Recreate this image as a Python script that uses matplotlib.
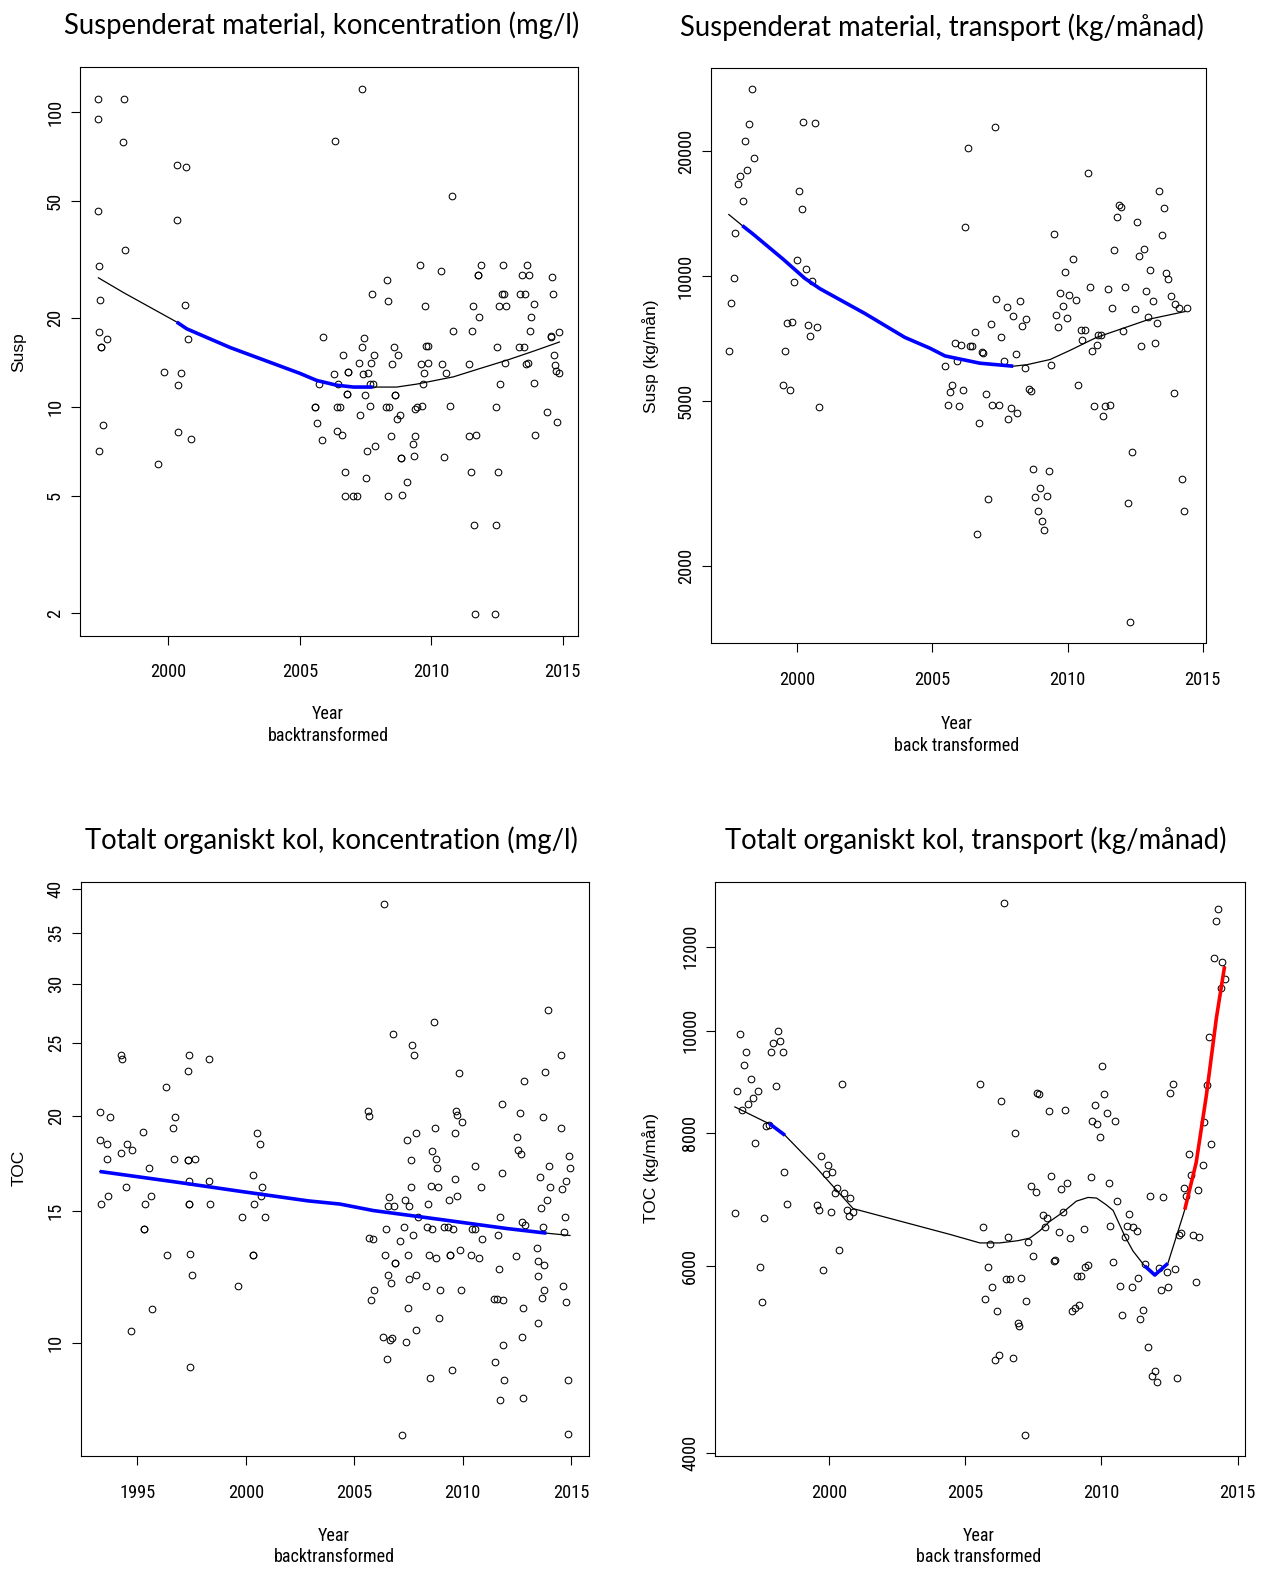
import matplotlib
matplotlib.use("Agg")
import matplotlib.pyplot as plt
from matplotlib.ticker import NullLocator
from matplotlib import font_manager as fm
import numpy as np

# ---------------- data ----------------
# Panel 1: Suspenderat material, koncentration (mg/l)
p1_year = [
    1997.34, 1998.32, 1997.34, 1998.29, 2000.32, 2000.67, 1997.34, 2000.34, 1998.35, 1997.37,
    1997.40, 2000.65, 1997.37, 1997.68, 1997.42, 1997.42, 2000.75, 1999.84, 2000.47, 2000.38,
    1997.50, 2000.38, 2000.85, 1997.37, 1999.62,
    2007.38, 2006.33, 2010.80, 2009.57, 2010.36, 2011.87, 2011.79, 2011.79, 2012.71, 2013.64,
    2013.44, 2013.70, 2014.60, 2008.30, 2007.76, 2008.34, 2009.77, 2011.59, 2011.80, 2012.68,
    2012.76, 2012.56, 2012.83, 2013.37, 2013.58, 2013.89, 2014.64, 2013.80, 2010.84, 2011.55,
    2013.74, 2014.54, 2014.54, 2014.87, 2005.87, 2007.45, 2007.35, 2008.58, 2009.80, 2009.89,
    2012.51, 2013.33, 2013.54, 2006.63, 2007.82, 2008.75, 2014.67, 2007.25, 2007.72, 2008.52,
    2009.60, 2009.89, 2010.41, 2011.42, 2012.79, 2013.60, 2013.67, 2014.69, 2006.29, 2006.85,
    2006.85, 2007.42, 2007.58, 2009.71, 2010.56, 2014.73, 2014.84, 2005.74, 2006.47, 2007.68,
    2007.78, 2009.68, 2012.61, 2013.92, 2006.78, 2006.78, 2007.49, 2008.63, 2008.63, 2005.58,
    2005.58, 2006.43, 2006.54, 2007.66, 2008.28, 2008.40, 2009.38, 2009.47, 2009.63, 2010.70,
    2012.47, 2007.28, 2008.80, 2008.68, 2005.64, 2014.41, 2014.77, 2005.84, 2006.40, 2006.59,
    2008.47, 2009.39, 2009.29, 2011.45, 2011.69, 2013.94, 2007.56, 2007.87, 2008.84, 2008.84,
    2009.33, 2010.48, 2006.73, 2007.53, 2009.09, 2011.51, 2012.54, 2006.71, 2007.02, 2007.18,
    2008.37, 2008.89, 2011.62, 2012.45, 2011.66, 2012.41]
p1_susp = [
    111, 111, 95, 79, 66, 65, 46, 43, 34, 30,
    23, 22.1, 18.0, 17.0, 16.0, 16.0, 17.0, 13.1, 13.0, 11.9,
    8.7, 8.2, 7.8, 7.07, 6.4,
    120, 79.7, 51.9, 30.3, 28.9, 30.3, 28.1, 28.1, 30.3, 30.3,
    27.9, 28.1, 27.6, 26.9, 24.2, 22.9, 22.0, 22.0, 20.2, 24.2,
    24.2, 22.0, 22.0, 24.1, 24.2, 22.3, 24.2, 20.2, 18.1, 18.1,
    18.1, 17.4, 17.3, 18.0, 17.2, 17.1, 16.0, 16.0, 16.1, 16.1,
    16.0, 16.0, 16.0, 15.0, 15.0, 15.0, 15.0, 14.1, 14.1, 14.0,
    14.0, 14.1, 14.0, 14.0, 14.1, 14.0, 14.1, 13.9, 12.9, 13.1,
    13.1, 12.9, 13.0, 13.0, 13.0, 13.2, 13.0, 12.0, 12.0, 12.0,
    12.0, 12.0, 12.0, 12.1, 11.06, 11.06, 11.0, 11.0, 11.0, 10.0,
    10.0, 10.0, 10.0, 10.05, 10.0, 10.0, 9.85, 10.0, 10.05, 10.05,
    10.0, 9.4, 9.4, 9.1, 8.8, 9.6, 8.9, 7.7, 8.3, 8.05,
    7.96, 7.96, 7.5, 7.96, 8.05, 8.03, 7.08, 7.35, 6.7, 6.7,
    6.8, 6.76, 6.0, 5.76, 5.55, 6.0, 6.0, 4.99, 4.99, 4.99,
    4.99, 5.04, 3.98, 3.98, 1.98, 1.98]
p1_trend_year = [1997.34, 1998.30, 2000.32, 2000.70, 2002.35, 2005.00, 2005.64, 2006.40,
                 2007.04, 2007.77, 2008.68, 2009.44, 2010.84, 2011.85, 2012.87, 2013.88, 2014.87]
p1_trend_val = [27.4, 24.4, 19.4, 18.4, 15.9, 13.0, 12.3, 11.85,
                11.68, 11.68, 11.68, 11.95, 12.65, 13.5, 14.4, 15.45, 16.6]
p1_sig = [(2000.32, 2007.77, "down")]

# Panel 2: Suspenderat material, transport (kg/månad)
p2_year = [
    1998.31, 2000.22, 2000.65, 1998.20, 1998.08, 1998.40, 1998.14, 1997.87, 1997.82, 1997.98,
    2000.06, 2000.16, 1997.71, 1999.99, 2000.31, 1999.89, 2000.56, 1997.65, 1997.55, 1999.62,
    1999.82, 2000.40, 2000.73, 2000.48, 1997.47, 1999.56, 1999.46, 1999.73, 2000.81,
    2007.31, 2006.33, 2006.22, 2010.75, 2009.48, 2013.38, 2013.55, 2013.48, 2011.91, 2011.96,
    2011.81, 2012.57, 2011.73, 2012.65, 2012.82, 2010.21, 2009.89, 2013.06, 2013.65, 2013.71,
    2010.81, 2011.48, 2012.13, 2009.72, 2010.05, 2010.31, 2012.90, 2013.16, 2013.81, 2013.98,
    2014.12, 2014.40, 2009.83, 2009.56, 2009.98, 2009.66, 2011.64, 2012.49, 2012.99, 2013.32,
    2007.37, 2008.24, 2007.75, 2007.98, 2008.30, 2008.47, 2007.15, 2006.56, 2007.55, 2010.49,
    2010.64, 2010.54, 2011.14, 2011.23, 2011.07, 2010.90, 2012.06, 2012.73, 2013.23, 2005.83,
    2006.06, 2006.39, 2006.47, 2006.82, 2006.88, 2008.08, 2007.65, 2005.90, 2005.46, 2008.41,
    2009.40, 2005.72, 2005.64, 2006.13, 2006.98, 2008.57, 2008.63, 2010.38, 2005.57, 2005.99,
    2007.21, 2007.47, 2007.90, 2008.14, 2007.81, 2006.72, 2010.98, 2011.58, 2011.39, 2011.31,
    2013.92, 2008.73, 2009.32, 2008.99, 2008.81, 2009.22, 2008.90, 2009.06, 2009.13, 2007.05,
    2006.66, 2012.39, 2012.23, 2014.24, 2014.30, 2012.30]
p2_susp = [
    28120, 23440, 23300, 23160, 21170, 19220, 18000, 17430, 16690, 15170,
    16060, 14470, 12720, 10910, 10410, 9650, 9710, 9890, 8590, 7705,
    7750, 7610, 7550, 7170, 6595, 6595, 5475, 5330, 4843,
    22880, 20360, 13090, 17680, 12640, 16060, 14580, 12560, 14800, 14620,
    13830, 13500, 11550, 11180, 11620, 10975, 10240, 10360, 10180, 9830,
    9400, 9280, 9400, 9110, 9000, 8765, 9220, 8710, 8930, 8550,
    8380, 8380, 8480, 8060, 7910, 7520, 8380, 8330, 7945, 7705,
    8800, 8710, 8430, 8025, 7565, 7865, 7675, 7320, 7130, 7410,
    7410, 7000, 7230, 7230, 6830, 6595, 7365, 6785, 6900, 6900,
    6830, 6785, 6785, 6555, 6515, 6475, 6230, 6255, 6080, 5990,
    6115, 5475, 5265, 5330, 5202, 5340, 5300, 5475, 4883, 4853,
    4883, 4883, 4823, 4687, 4518, 4426, 4853, 4883, 4853, 4602,
    5235, 3428, 3400, 3089, 2934, 2953, 2720, 2569, 2441, 2910,
    2386, 3773, 2840, 3251, 2720, 1473]
p2_trend_year = [1997.47, 1997.97, 1998.37, 1999.48, 2000.28, 2000.84, 2002.50, 2003.98,
                 2004.91, 2005.46, 2005.65, 2006.76, 2007.99, 2008.49, 2009.35, 2010.09,
                 2011.07, 2012.06, 2013.05, 2014.34]
p2_trend_val = [14060, 13220, 12610, 10975, 9870, 9320, 8125, 7115,
                6700, 6423, 6383, 6166, 6065, 6115, 6293, 6622,
                7115, 7487, 7880, 8210]
p2_sig = [(1997.97, 2007.99, "down")]

# Panel 3: Totalt organiskt kol, koncentration (mg/l)
p3_year = [
    1994.25, 1994.27, 1997.38, 1997.33, 1998.31, 1996.31, 1993.27, 1993.73, 1996.73, 1996.62,
    1995.25, 2000.50, 2000.67, 1993.27, 1993.61, 1994.53, 1994.75, 1994.24, 1993.61, 1996.68,
    1997.33, 1997.33, 1997.67, 1995.55, 1994.45, 1997.38, 1998.30, 2000.33, 2000.74, 2000.70,
    1993.64, 1993.30, 1995.64, 1995.35, 1997.36, 1997.36, 1998.34, 2000.36, 1999.82, 2000.90,
    1995.30, 1995.30, 1996.35, 1997.41, 2000.34, 2000.34, 1997.50, 1999.62, 1995.69, 1994.70,
    1997.41,
    2006.35, 2013.93, 2008.66, 2006.78, 2007.68, 2007.77, 2014.52, 2009.83, 2013.81, 2012.83,
    2011.80, 2012.64, 2013.72, 2014.56, 2005.63, 2005.66, 2009.71, 2009.72, 2009.98, 2009.63,
    2008.71, 2007.83, 2007.43, 2012.50, 2012.55, 2012.67, 2008.61, 2008.75, 2008.81, 2007.63,
    2014.92, 2014.96, 2013.98, 2010.55, 2011.83, 2009.66, 2013.56, 2014.75, 2014.60, 2014.03,
    2007.60, 2008.52, 2008.86, 2010.86, 2009.75, 2009.37, 2008.40, 2013.90, 2013.60, 2006.62,
    2006.57, 2006.83, 2007.34, 2007.54, 2007.94, 2011.74, 2014.70, 2012.72, 2012.89, 2006.45,
    2007.31, 2008.37, 2008.57, 2009.15, 2009.31, 2009.55, 2010.44, 2010.55, 2013.69, 2014.66,
    2005.69, 2005.86, 2007.72, 2007.09, 2010.91, 2011.61, 2006.42, 2006.89, 2006.89, 2007.48,
    2008.44, 2008.78, 2009.43, 2009.43, 2009.86, 2010.40, 2010.77, 2012.44, 2013.44, 2013.47,
    2013.77, 2011.66, 2006.57, 2006.71, 2007.51, 2007.86, 2008.32, 2008.95, 2009.92, 2013.50,
    2014.61, 2014.78, 2013.77, 2013.64, 2005.91, 2005.77, 2011.43, 2011.57, 2011.86, 2007.46,
    2008.91, 2012.80, 2013.47, 2007.86, 2006.32, 2006.66, 2006.75, 2007.40, 2012.75, 2011.86,
    2006.51, 2011.49, 2008.49, 2009.51, 2011.92, 2014.84, 2011.72, 2012.80, 2007.22, 2014.87]
p3_toc = [
    24.1, 23.8, 24.1, 23.0, 23.8, 21.9, 20.25, 19.95, 19.95, 19.3,
    19.05, 19.0, 18.4, 18.6, 18.4, 18.4, 18.05, 17.9, 17.55, 17.55,
    17.5, 17.5, 17.55, 17.06, 16.1, 16.4, 16.4, 16.7, 16.1, 15.7,
    15.7, 15.3, 15.7, 15.3, 15.3, 15.3, 15.3, 15.3, 14.7, 14.7,
    14.2, 14.2, 13.1, 13.15, 13.1, 13.1, 12.33, 11.93, 11.1, 10.4,
    9.3,
    38.3, 27.7, 26.7, 25.7, 24.9, 24.1, 24.1, 22.8, 22.9, 22.3,
    20.75, 20.2, 19.95, 19.3, 20.3, 20.0, 20.35, 20.1, 19.66, 19.0,
    19.3, 19.0, 18.6, 18.8, 18.07, 17.8, 18.0, 17.55, 17.06, 17.5,
    17.7, 17.1, 17.2, 17.2, 16.8, 16.5, 16.6, 16.4, 16.0, 16.1,
    16.1, 16.15, 16.1, 16.1, 15.7, 15.5, 15.3, 15.5, 15.1, 15.65,
    15.2, 15.2, 15.5, 15.2, 14.7, 14.7, 14.7, 14.5, 14.35, 14.2,
    14.25, 14.25, 14.2, 14.25, 14.25, 14.2, 14.2, 14.2, 14.25, 14.06,
    13.8, 13.76, 13.9, 13.65, 13.76, 13.9, 13.1, 12.8, 12.8, 13.1,
    13.1, 12.98, 13.1, 13.1, 13.28, 13.1, 12.98, 13.05, 13.38, 12.84,
    12.72, 12.55, 12.33, 12.03, 12.16, 12.33, 11.9, 11.77, 11.77, 12.29,
    11.93, 11.36, 11.77, 11.5, 11.77, 11.4, 11.44, 11.44, 11.4, 11.13,
    10.82, 11.13, 10.65, 10.43, 10.2, 10.1, 10.18, 10.05, 10.2, 9.95,
    9.52, 9.46, 9.0, 9.22, 8.95, 8.95, 8.41, 8.47, 7.56, 7.59]
p3_trend_year = [1993.26, 1994.56, 1996.87, 1999.79, 2002.87, 2004.34, 2005.88,
                 2008.95, 2012.03, 2013.87, 2014.95]
p3_trend_val = [16.9, 16.7, 16.35, 15.9, 15.45, 15.3, 15.0, 14.6, 14.2, 14.0, 13.9]
p3_sig = [(1993.26, 2013.87, "down")]

# Panel 4: Totalt organiskt kol, transport (kg/månad)
p4_year = [
    1996.72, 1998.12, 1997.95, 1998.20, 1997.87, 1998.30, 1996.97, 1996.87, 1997.15, 1996.61,
    1997.40, 1998.06, 1997.21, 1997.04, 1996.80, 2000.48, 1997.69, 1997.79, 1997.29, 1998.37,
    1999.71, 1999.98, 2000.13, 1999.88, 2000.31, 2000.23, 2000.54, 2000.79, 2000.65, 2000.72,
    2000.89, 1998.47, 1999.56, 1999.63, 2000.06, 1996.54, 1997.63, 2000.38, 1997.46, 1999.80,
    1997.53,
    2006.41, 2014.27, 2014.21, 2014.13, 2014.44, 2014.55, 2014.38, 2013.95, 2013.87, 2013.78,
    2014.02, 2013.21, 2013.28, 2013.72, 2013.03, 2013.09, 2013.53, 2010.01, 2010.10, 2009.77,
    2010.20, 2009.67, 2009.85, 2010.51, 2009.95, 2005.56, 2006.33, 2007.65, 2007.71, 2008.08,
    2008.68, 2006.83, 2012.52, 2012.62, 2008.15, 2008.75, 2008.51, 2007.42, 2007.59, 2009.61,
    2010.27, 2011.77, 2012.26, 2010.59, 2007.85, 2008.02, 2008.59, 2011.01, 2010.33, 2010.93,
    2011.16, 2011.30, 2005.67, 2007.92, 2009.36, 2008.45, 2006.58, 2008.83, 2010.87, 2005.92,
    2007.31, 2012.92, 2012.85, 2013.36, 2013.59, 2007.49, 2008.31, 2008.26, 2010.44, 2005.84,
    2009.41, 2009.52, 2011.61, 2012.13, 2012.40, 2012.69, 2009.09, 2009.25, 2006.50, 2006.66,
    2007.06, 2011.34, 2005.99, 2010.68, 2011.11, 2012.20, 2012.44, 2013.46, 2005.73, 2007.25,
    2006.17, 2008.93, 2009.03, 2009.18, 2010.76, 2011.53, 2011.42, 2006.93, 2006.99, 2011.70,
    2006.10, 2006.23, 2006.75, 2011.95, 2011.85, 2012.03, 2012.79, 2007.18]
p4_toc = [
    9920, 10000, 9745, 9777, 9552, 9552, 9552, 9282, 9003, 8780,
    8780, 8866, 8634, 8531, 8422, 8915, 8128, 8143, 7842, 7353,
    7623, 7470, 7353, 7323, 7102, 7034, 7036, 6950, 6780, 6690,
    6743, 6860, 6845, 6772, 6743, 6725, 6655, 6213, 5992, 5943,
    5546,
    13195, 13030, 12700, 11725, 11600, 11200, 10980, 9855, 8895, 8208,
    7823, 7643, 7317, 7471, 7114, 6979, 7075, 9258, 8710, 8510,
    8360, 8226, 8160, 8226, 7943, 8915, 8578, 8738, 8715, 8400,
    8422, 8007, 8730, 8915, 7300, 7188, 7090, 7136, 7040, 7276,
    7183, 6983, 6968, 6901, 6708, 6660, 6742, 6720, 6540, 6540,
    6530, 6472, 6525, 6525, 6500, 6465, 6390, 6373, 6390, 6287,
    6325, 6443, 6412, 6420, 6390, 6133, 6083, 6063, 6049, 5992,
    5987, 6015, 6025, 5976, 5924, 5963, 5867, 5867, 5830, 5830,
    5844, 5844, 5737, 5746, 5737, 5690, 5737, 5790, 5578, 5560,
    5440, 5437, 5475, 5506, 5393, 5450, 5342, 5299, 5270, 5036,
    4893, 4944, 4908, 4780, 4720, 4663, 4708, 4158]
p4_trend_year = [1996.55, 1997.65, 1997.81, 1998.39, 1999.55, 1999.79, 2000.89, 2004.44,
                 2005.54, 2006.27, 2006.94, 2007.37, 2007.74, 2008.10, 2008.59, 2009.08,
                 2009.51, 2009.82, 2010.18, 2010.43, 2010.86, 2011.16, 2011.53, 2011.59,
                 2011.96, 2012.44, 2012.99, 2013.06, 2013.48, 2013.85, 2014.22, 2014.52]
p4_trend_val = [8475, 8208, 8176, 7968, 7424, 7305, 6795, 6425,
                6307, 6307, 6338, 6373, 6476, 6607, 6742, 6906,
                6962, 6953, 6851, 6768, 6400, 6197, 6025, 6000,
                5882, 6033, 6689, 6780, 7513, 8682, 10280, 11500]
p4_sig = [(1997.81, 1998.39, "down"), (2011.59, 2012.44, "down"), (2013.06, 2014.52, "up")]

# ---------------- fonts ----------------
def find_narrow():
    prefs = ["Liberation Sans Narrow", "Arial Narrow", "Roboto Condensed",
             "Open Sans Condensed", "Noto Sans Condensed"]
    fl = fm.fontManager.ttflist
    for p in prefs:
        for f in fl:
            if f.name == p and f.style == "normal" and f.weight in (400, "normal", "regular"):
                return f.fname
    for f in fl:
        if f.stretch in ("condensed", "semi-condensed") and "Sans" in f.name \
                and f.style == "normal" and f.weight in (400, "normal", "regular"):
            return f.fname
    return None


NARROW = find_narrow()
if NARROW:
    def tfont(size):
        return fm.FontProperties(fname=NARROW, size=size)
    TICK_SIZE, LAB_SIZE = 13.2, 13.0
else:
    def tfont(size):
        return fm.FontProperties(family=["Liberation Sans", "DejaVu Sans"], size=size)
    TICK_SIZE, LAB_SIZE = 12.0, 11.2

TITLEFONT = ["Lato", "Open Sans", "DejaVu Sans"]
SIG_COL = {"down": "#0000FF", "up": "#FF0000"}

# ---------------- layout helpers ----------------
W, H = 1261, 1571
fig = plt.figure(figsize=(W / 100, H / 100), dpi=100)
fig.patch.set_facecolor("white")


def rect(l, r, t, b):
    return [l / W, 1 - b / H, (r - l) / W, (b - t) / H]


def ftext(x, y, s, **kw):
    fig.text(x / W, 1 - y / H, s, **kw)


def panel(box, xs, ys, tx, ty, sig, xlim, ylim, xticks, yticks):
    ax = fig.add_axes(rect(*box))
    ax.set_yscale("log")
    ax.plot(xs, ys, linestyle="none", marker="o", mfc="none", mec="black",
            ms=4.8, mew=0.75, zorder=2)
    tx = np.asarray(tx)
    ty = np.asarray(ty)
    ax.plot(tx, ty, color="black", lw=0.9, zorder=3)
    for a, b, kind in sig:
        m = (tx >= a - 1e-6) & (tx <= b + 1e-6)
        ax.plot(tx[m], ty[m], color=SIG_COL[kind], lw=2.6, zorder=4,
                solid_capstyle="butt")
    ax.set_xlim(*xlim)
    ax.set_ylim(*ylim)
    ax.set_xticks(xticks)
    ax.set_xticklabels([str(t) for t in xticks])
    ax.set_yticks(yticks)
    ax.set_yticklabels([str(t) for t in yticks])
    ax.yaxis.set_minor_locator(NullLocator())
    ax.xaxis.set_minor_locator(NullLocator())
    ax.tick_params(axis="both", direction="out", length=6.5, width=0.8, colors="black")
    ax.tick_params(axis="x", pad=13.5)
    ax.tick_params(axis="y", pad=5.0)
    for lbl in ax.get_xticklabels() + ax.get_yticklabels():
        lbl.set_fontproperties(tfont(TICK_SIZE))
    for lbl in ax.get_yticklabels():
        lbl.set_rotation(90)
        lbl.set_va("center")
    for sp in ax.spines.values():
        sp.set_linewidth(0.8)
        sp.set_color("black")
    return ax


# Panel 1
panel((80, 577.8, 67.2, 635.5), p1_year, p1_susp, p1_trend_year, p1_trend_val, p1_sig,
      (1996.64, 2015.57), (1.68, 141.8), [2000, 2005, 2010, 2015], [2, 5, 10, 20, 50, 100])
# Panel 2
panel((710.7, 1205.5, 68.2, 642.8), p2_year, p2_susp, p2_trend_year, p2_trend_val, p2_sig,
      (1996.80, 2015.10), (1309, 31640), [2000, 2005, 2010, 2015], [2000, 5000, 10000, 20000])
# Panel 3
panel((80.9, 589, 882, 1456), p3_year, p3_toc, p3_trend_year, p3_trend_val, p3_sig,
      (1992.39, 2015.83), (7.09, 40.9), [1995, 2000, 2005, 2010, 2015],
      [10, 15, 20, 25, 30, 35, 40])
# Panel 4
panel((715, 1245, 882, 1456), p4_year, p4_toc, p4_trend_year, p4_trend_val, p4_sig,
      (1995.82, 2015.27), (3970, 13815), [2000, 2005, 2010, 2015],
      [4000, 6000, 8000, 10000, 12000])

# Titles
tkw = dict(ha="center", va="center", fontsize=19.8, family=TITLEFONT, color="black")
ftext(322, 25, "Suspenderat material, koncentration (mg/l)", **tkw)
ftext(942, 27, "Suspenderat material, transport (kg/månad)", **tkw)
ftext(331, 840, "Totalt organiskt kol, koncentration (mg/l)", **tkw)
ftext(976, 840, "Totalt organiskt kol, transport (kg/månad)", **tkw)

# Axis labels
lkw = dict(ha="center", va="center", color="black", fontproperties=tfont(LAB_SIZE))
ftext(328, 714, "Year", **lkw)
ftext(328, 736, "backtransformed", **lkw)
ftext(957, 724, "Year", **lkw)
ftext(957, 746, "back transformed", **lkw)
ftext(334, 1536, "Year", **lkw)
ftext(334, 1557, "backtransformed", **lkw)
ftext(979, 1536, "Year", **lkw)
ftext(979, 1557, "back transformed", **lkw)

ykw = dict(ha="center", va="center", color="black", rotation=90,
           fontproperties=fm.FontProperties(family=["Liberation Sans", "DejaVu Sans"], size=12.5))
ftext(19, 352, "Susp", **ykw)
ftext(651, 356, "Susp (kg/mån)", **ykw)
ftext(19, 1168, "TOC", **ykw)
ftext(651, 1168, "TOC (kg/mån)", **ykw)

fig.savefig("out.png", dpi=100, facecolor="white")
